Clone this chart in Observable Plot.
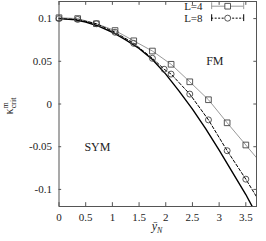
<!DOCTYPE html>
<html><head><meta charset="utf-8">
<script src="https://cdn.jsdelivr.net/npm/d3@7"></script>
<script src="https://cdn.jsdelivr.net/npm/@observablehq/plot@0.6"></script>
<style>body{margin:0;background:#fff}svg{display:block}</style>
</head><body><div id="c"></div>
<script>
const xTicks = [0, 0.5, 1, 1.5, 2, 2.5, 3, 3.5];
const yTicks = [-0.1, -0.05, 0, 0.05, 0.1];
const yTickLabels = ["-0.1", "-0.05", "0", "0.05", "0.1"];

const l4X = [0, 0.35, 0.7, 1.05, 1.4, 1.75, 2.1, 2.45, 2.8, 3.15, 3.5, 3.85];
const l4Y = [0.101, 0.1, 0.094, 0.086, 0.074, 0.062, 0.0465, 0.026, 0.005, -0.022, -0.048, -0.074];
const l4Shown = 11;

const l8X = [0, 0.35, 0.7, 1.05, 1.4, 1.75, 1.97, 2.1, 2.45, 2.8, 3.15, 3.5, 3.85];
const l8Y = [0.1, 0.099, 0.094, 0.084, 0.071, 0.0535, 0.0407, 0.035, 0.0116, -0.0186, -0.0547, -0.088, -0.124];
const l8Shown = 12;

const limX = [0, 0.25, 0.5, 0.75, 1.0, 1.25, 1.5, 1.75, 2.0, 2.25, 2.5, 2.75, 3.0, 3.25, 3.5, 3.62];
const limY = [0.1, 0.099, 0.096, 0.091, 0.084, 0.075, 0.065, 0.052, 0.035, 0.015, -0.006, -0.029, -0.054, -0.08, -0.106, -0.12];

const regionLabels = ["FM", "SYM"];
const regionX = [2.92, 0.72];
const regionY = [0.05, -0.05];

const legendNames = ["L=4", "L=8"];
const legendY = [0.1145, 0.1005];
const legendTextX = 2.69;
const legendLine = [2.86, 3.46];
const legendMark = 3.16;
const capHalf = 0.004;

const xDomain = [0, 3.7];
const yDomain = [-0.12, 0.12];
const tickLenX = 0.05;    // inward tick length in x units
const tickLenY = 0.0045;  // inward tick length in y units

const l4 = l4X.map((x, i) => ({x, y: l4Y[i]}));
const l8 = l8X.map((x, i) => ({x, y: l8Y[i]}));
const lim = limX.map((x, i) => ({x, y: limY[i]}));
const regions = regionLabels.map((t, i) => ({t, x: regionX[i], y: regionY[i]}));
const caps = legendLine.flatMap(x => legendY.map((y, i) => ({x, y, s: i})));

const font = "Liberation Serif, DejaVu Serif, serif";
const axisColor = "#555";
const plot = Plot.plot({
  width: 266, height: 241,
  marginLeft: 58.5, marginRight: 10, marginTop: 1, marginBottom: 35,
  style: {fontFamily: font, fontSize: "11px", background: "#fff", color: "#222"},
  x: {type: "linear", domain: xDomain},
  y: {type: "linear", domain: yDomain},
  marks: [
    Plot.axisX(xTicks, {anchor: "bottom", tickSize: 0, tickPadding: 7, label: null, tickFormat: d => String(d), fontSize: 11}),
    Plot.axisY(yTicks, {anchor: "left", tickSize: 0, tickPadding: 7, label: null, tickFormat: (d, i) => yTickLabels[i], fontSize: 11}),
    Plot.ruleX(xTicks, {x: d => d, y1: yDomain[0], y2: yDomain[0] + tickLenY, stroke: axisColor}),
    Plot.ruleX(xTicks, {x: d => d, y1: yDomain[1], y2: yDomain[1] - tickLenY, stroke: axisColor}),
    Plot.ruleY(yTicks, {y: d => d, x1: xDomain[0], x2: xDomain[0] + tickLenX, stroke: axisColor}),
    Plot.ruleY(yTicks, {y: d => d, x1: xDomain[1], x2: xDomain[1] - tickLenX, stroke: axisColor}),
    Plot.line(lim, {x: "x", y: "y", stroke: "#000", strokeWidth: 1.4, clip: true}),
    Plot.line(l4, {x: "x", y: "y", stroke: "#999", strokeWidth: 1, clip: true}),
    Plot.line(l8, {x: "x", y: "y", stroke: "#000", strokeWidth: 1, strokeDasharray: "3,2", clip: true}),
    Plot.dot(l4.slice(0, l4Shown), {x: "x", y: "y", symbol: "square", r: 3.2, stroke: "#444", strokeWidth: 0.9, fill: "none"}),
    Plot.dot(l8.slice(0, l8Shown), {x: "x", y: "y", symbol: "circle", r: 3, stroke: "#444", strokeWidth: 0.9, fill: "none"}),
    Plot.text(regions, {x: "x", y: "y", text: "t", fontSize: 12, fill: "#222"}),
    Plot.text(legendNames, {x: () => legendTextX, y: (d, i) => legendY[i], text: d => d, textAnchor: "end", fontSize: 11, fill: "#222"}),
    Plot.ruleY([legendY[0]], {x1: legendLine[0], x2: legendLine[1], y: d => d, stroke: "#999"}),
    Plot.ruleY([legendY[1]], {x1: legendLine[0], x2: legendLine[1], y: d => d, stroke: "#000", strokeDasharray: "2,1.5"}),
    Plot.ruleX(caps, {x: "x", y1: d => d.y - capHalf, y2: d => d.y + capHalf, stroke: d => d.s === 0 ? "#999" : "#000"}),
    Plot.dot([legendMark], {x: d => d, y: () => legendY[0], symbol: "square", r: 3.2, stroke: "#444", strokeWidth: 0.9, fill: "#fff"}),
    Plot.dot([legendMark], {x: d => d, y: () => legendY[1], symbol: "circle", r: 3, stroke: "#444", strokeWidth: 0.9, fill: "#fff"}),
    Plot.frame({stroke: axisColor, strokeWidth: 1})
  ]
});
document.getElementById("c").appendChild(plot);

const svg = d3.select(plot);
const yl = svg.append("text").attr("transform", "translate(13,106) rotate(-90)")
  .attr("text-anchor", "middle").attr("font-family", font).attr("font-size", 12).attr("fill", "#222");
yl.append("tspan").text("κ");
yl.append("tspan").attr("font-size", 8).attr("dy", -5).text("m");
yl.append("tspan").attr("font-size", 8).attr("dx", -6).attr("dy", 8).text("crit");
const xl = svg.append("text").attr("x", 157).attr("y", 230)
  .attr("text-anchor", "middle").attr("font-family", font).attr("font-size", 12).attr("font-style", "italic").attr("fill", "#222");
xl.append("tspan").text("ȳ");
xl.append("tspan").attr("font-size", 8).attr("dy", 3).text("N");
</script></body></html>
